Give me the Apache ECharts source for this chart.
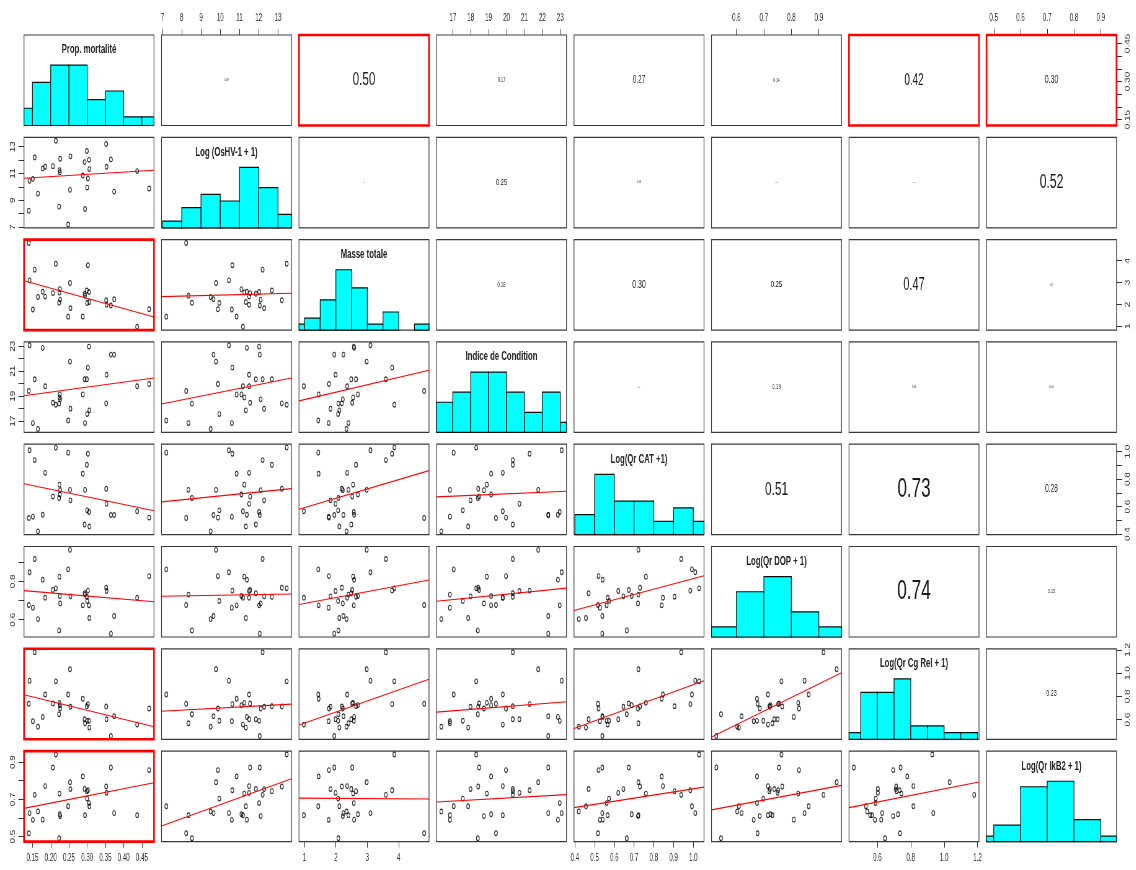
<!DOCTYPE html>
<html>
<head>
<meta charset="utf-8">
<script src="https://cdn.jsdelivr.net/npm/echarts@6/dist/echarts.min.js"></script>
<style>
  html, body { margin: 0; padding: 0; background: #fff; overflow: hidden; width: 1136px; height: 870px; }
  #chart { width: 1833px; height: 870px; transform: scaleX(0.62); transform-origin: 0 0; }
</style>
</head>
<body>
<div id="chart"></div>
<script>
// Horizontal squeeze applied to the drawing (narrow R-style lettering and oval points)
const SX = 0.62;
const FONT = "'Liberation Sans', Arial, sans-serif";

// ---- variables (one value per oyster batch, 30 batches) ----
const varLabels = [
  'Prop. mortalité', 'Log (OsHV-1 + 1)', 'Masse totale', 'Indice de Condition',
  'Log(Qr CAT +1)', 'Log(Qr DOP + 1)', 'Log(Qr Cg Rel + 1)', 'Log(Qr IkB2 + 1)'
];

const mortalite = [0.140, 0.142, 0.151, 0.156, 0.165, 0.178, 0.185, 0.206, 0.214, 0.223,
                   0.224, 0.225, 0.226, 0.248, 0.253, 0.254, 0.288, 0.293, 0.294, 0.299,
                   0.300, 0.302, 0.305, 0.306, 0.352, 0.353, 0.365, 0.374, 0.437, 0.470];
const oshv      = [8.23, 10.45, 10.6, 12.2, 9.5, 11.38, 11.5, 11.55, 13.45, 8.53,
                   11.25, 11.1, 12.1, 7.2, 9.78, 12.28, 10.85, 11.85, 8.35, 12.68,
                   9.95, 10.63, 12.02, 11.33, 13.2, 11.5, 12.05, 9.65, 11.18, 9.88];
const masse     = [4.81, 3.10, 1.77, 3.59, 2.34, 2.58, 2.36, 2.52, 3.86, 2.08,
                   2.55, 2.70, 2.22, 1.44, 2.98, 1.83, 1.45, 2.49, 2.40, 2.64,
                   2.07, 3.79, 2.57, 2.11, 2.19, 1.99, 1.95, 2.24, 0.98, 1.78];
const indice    = [19.41, 23.08, 16.84, 20.35, 16.36, 22.87, 19.79, 18.47, 18.31, 18.4,
                   18.9, 19.14, 18.74, 17.05, 21.77, 17.99, 19.14, 20.35, 16.84, 20.35,
                   17.56, 21.29, 22.97, 17.86, 18.42, 20.72, 22.33, 22.33, 19.79, 19.97];
const qrCat     = [0.517, 1.01, 0.527, 0.939, 0.42, 0.541, 0.846, 0.673, 1.03, 0.663,
                   0.76, 0.688, 0.72, 0.993, 0.722, 0.646, 0.84, 0.47, 0.722, 0.905,
                   0.573, 0.985, 0.561, 0.456, 0.73, 0.62, 0.539, 0.539, 0.566, 0.52];
const qrDop     = [0.677, 0.848, 0.663, 0.917, 0.603, 0.809, 0.715, 0.755, 0.764, 0.544,
                   0.825, 0.724, 0.685, 0.863, 0.965, 0.722, 0.675, 0.738, 0.731, 0.72,
                   0.698, 0.752, 0.675, 0.609, 0.767, 0.75, 0.527, 0.619, 0.715, 0.828];
const qrCgRel   = [0.736, 0.935, 0.586, 1.18, 0.539, 0.623, 0.816, 0.739, 0.929, 0.646,
                   0.744, 0.724, 0.695, 0.816, 1.033, 0.71, 0.779, 0.603, 0.568, 0.715,
                   0.59, 0.733, 0.589, 0.531, 0.713, 0.603, 0.459, 0.629, 0.557, 0.695];
const qrIkb2    = [0.518, 0.626, 0.59, 0.724, 0.635, 0.591, 0.771, 0.871, 0.941, 0.491,
                   0.731, 0.62, 0.61, 0.663, 0.792, 0.755, 0.823, 0.756, 0.615, 0.744,
                   0.704, 0.749, 0.68, 0.663, 0.769, 0.735, 0.871, 0.626, 0.615, 0.857];

// ---- axis ticks and labels ----
const tickValues = [
  [0.15, 0.20, 0.25, 0.30, 0.35, 0.40, 0.45],
  [7, 8, 9, 10, 11, 12, 13],
  [1, 2, 3, 4],
  [17, 18, 19, 20, 21, 22, 23],
  [0.4, 0.5, 0.6, 0.7, 0.8, 0.9, 1.0],
  [0.6, 0.7, 0.8, 0.9],
  [0.6, 0.8, 1.0, 1.2],
  [0.5, 0.6, 0.7, 0.8, 0.9]
];
// labels kept on the vertical (rotated) axes
const sideLabelValues = [
  [0.15, 0.30, 0.45],
  [7, 9, 11, 13],
  [1, 2, 3, 4],
  [17, 19, 21, 23],
  [0.4, 0.6, 0.8, 1.0],
  [0.6, 0.8],
  [0.6, 0.8, 1.0, 1.2],
  [0.5, 0.7, 0.9]
];
const labelDigits = [2, 0, 0, 0, 1, 1, 1, 1];
const histStep = [0.05, 1, 0.5, 1, 0.1, 0.1, 0.1, 0.1];

// |r| printed in the upper panels, row by row (text size follows |r|)
const corRows = [
  [0.09, 0.50, 0.17, 0.27, 0.14, 0.42, 0.30],
  [0.04, 0.25, 0.09, 0.05, 0.06, 0.52],
  [0.18, 0.30, 0.25, 0.47, 0.07],
  [0.05, 0.19, 0.09, 0.10],
  [0.51, 0.73, 0.28],
  [0.74, 0.15],
  [0.23]
];
// panels framed in red (significant links with mortality)
const redPanels = [[0, 2], [0, 6], [0, 7], [2, 0], [6, 0], [7, 0]];

const columns = [mortalite, oshv, masse, indice, qrCat, qrDop, qrCgRel, qrIkb2];
const N = columns.length;

// ---- panel layout (final pixels) ----
const COL_LEFT = 24, COL_STEP = 137.5, PANEL_W = 130;
const ROW_TOP = 35, ROW_STEP = 102.3, PANEL_H = 90.5;

function padRange(arr) {
  const mn = Math.min(...arr), mx = Math.max(...arr), d = mx - mn;
  return [mn - 0.04 * d, mx + 0.04 * d];
}
const ranges = columns.map(padRange);

function histogram(arr, step) {
  const mn = Math.min(...arr), mx = Math.max(...arr);
  const b0 = Math.floor(mn / step + 1e-9) * step;
  const nb = Math.ceil((mx - b0) / step - 1e-9);
  const counts = new Array(nb).fill(0);
  arr.forEach(v => {
    let k = Math.ceil((v - b0) / step - 1e-7) - 1;
    k = Math.max(0, Math.min(nb - 1, k));
    counts[k]++;
  });
  const top = Math.max(...counts);
  return counts.map((c, k) => [b0 + k * step, b0 + (k + 1) * step, c / top]);
}

// least-squares line, drawn across the whole panel
function fitLine(xs, ys, lo, hi) {
  const n = xs.length;
  const mx = xs.reduce((a, b) => a + b, 0) / n;
  const my = ys.reduce((a, b) => a + b, 0) / n;
  let sxy = 0, sxx = 0;
  for (let k = 0; k < n; k++) { sxy += (xs[k] - mx) * (ys[k] - my); sxx += (xs[k] - mx) * (xs[k] - mx); }
  const b = sxy / sxx, a = my - b * mx;
  return [[lo, a + b * lo], [hi, a + b * hi]];
}

function isRed(i, j) { return redPanels.some(p => p[0] === i && p[1] === j); }

function axisCfg(g, range, side, varIdx, vertical) {
  const cfg = {
    type: 'value', gridIndex: g, min: range[0], max: range[1],
    scale: true, show: side !== null,
    splitLine: { show: false }, axisLine: { show: false }
  };
  if (side !== null) {
    cfg.position = side;
    cfg.axisTick = {
      show: true, inside: false, length: vertical ? 9 : 6,
      customValues: tickValues[varIdx],
      lineStyle: { color: '#333', width: 1 }
    };
    cfg.axisLabel = {
      show: true,
      customValues: vertical ? sideLabelValues[varIdx] : tickValues[varIdx],
      formatter: v => Number(v).toFixed(labelDigits[varIdx]),
      fontSize: 10, color: '#2a2a2a', fontFamily: FONT,
      margin: vertical ? (side === 'left' ? 12 : 13) : 12,
      rotate: vertical ? 90 : 0
    };
  } else {
    cfg.axisTick = { show: false };
    cfg.axisLabel = { show: false };
  }
  return cfg;
}

const grids = [], xAxes = [], yAxes = [], series = [], graphics = [];

for (let i = 0; i < N; i++) {
  for (let j = 0; j < N; j++) {
    const g = i * N + j;
    const red = isRed(i, j);
    grids.push({
      left: (COL_LEFT + COL_STEP * j) / SX,
      top: ROW_TOP + ROW_STEP * i,
      width: PANEL_W / SX,
      height: PANEL_H,
      show: true,
      backgroundColor: 'rgba(0,0,0,0)',
      borderColor: red ? '#ff0000' : '#3a3a3a',
      borderWidth: red ? 2.6 : 1.2,
      z: red ? 5 : 1
    });

    // outer axes alternate like an R pairs() plot
    let xSide = null, ySide = null;
    if (i === 0 && j % 2 === 1) xSide = 'top';
    if (i === N - 1 && j % 2 === 0) xSide = 'bottom';
    if (j === 0 && i % 2 === 1) ySide = 'left';
    if (j === N - 1 && i % 2 === 0) ySide = 'right';

    xAxes.push(axisCfg(g, ranges[j], xSide, j, false));
    if (i === j) {
      yAxes.push(axisCfg(g, [0, 1.5], null, i, true));
    } else {
      yAxes.push(axisCfg(g, ranges[i], ySide, i, true));
    }

    const cx = (COL_LEFT + COL_STEP * j + PANEL_W / 2) / SX;
    const cy = ROW_TOP + ROW_STEP * i + PANEL_H / 2;

    if (i === j) {
      const lo = ranges[j][0], hi = ranges[j][1];
      series.push({
        type: 'custom', xAxisIndex: g, yAxisIndex: g, silent: true, z: 2,
        data: histogram(columns[j], histStep[j]),
        encode: { x: [0, 1], y: 2 },
        renderItem: (params, api) => {
          const x0 = Math.max(api.value(0), lo), x1 = Math.min(api.value(1), hi);
          const h = api.value(2);
          if (x1 <= x0 || h <= 0) return null;
          const a = api.coord([x0, 0]), b = api.coord([x1, h]);
          return {
            type: 'rect',
            shape: { x: a[0], y: b[1], width: b[0] - a[0], height: a[1] - b[1] },
            style: { fill: '#00ffff', stroke: '#111', lineWidth: 1.2 }
          };
        }
      });
      graphics.push({
        type: 'text', x: cx, y: ROW_TOP + ROW_STEP * i + 15, z: 100,
        style: {
          text: varLabels[i], fontSize: 12.5, fontWeight: 'bold', fontFamily: FONT, fill: '#222',
          align: 'center', verticalAlign: 'middle', textAlign: 'center', textVerticalAlign: 'middle'
        }
      });
    } else if (i > j) {
      const xs = columns[j], ys = columns[i];
      series.push({
        type: 'scatter', xAxisIndex: g, yAxisIndex: g, silent: true, z: 3,
        symbol: 'circle', symbolSize: 4.7,
        itemStyle: { color: 'rgba(0,0,0,0)', borderColor: '#000', borderWidth: 1.15 },
        data: xs.map((v, k) => [v, ys[k]])
      });
      series.push({
        type: 'line', xAxisIndex: g, yAxisIndex: g, silent: true, z: 4, clip: true,
        showSymbol: false, symbol: 'none', smooth: false,
        lineStyle: { color: '#ff0000', width: 1.1 },
        data: fitLine(xs, ys, ranges[j][0], ranges[j][1])
      });
    } else {
      const r = corRows[i][j - i - 1];
      graphics.push({
        type: 'text', x: cx, y: cy, z: 100,
        style: {
          text: r.toFixed(2), fontSize: Math.max(1, 37.7 * r), fontFamily: FONT, fill: '#1a1a1a',
          align: 'center', verticalAlign: 'middle', textAlign: 'center', textVerticalAlign: 'middle'
        }
      });
    }
  }
}

const chart = echarts.init(document.getElementById('chart'), null, { renderer: 'canvas' });
chart.setOption({
  backgroundColor: '#ffffff',
  animation: false,
  grid: grids,
  xAxis: xAxes,
  yAxis: yAxes,
  series: series,
  graphic: graphics
});
</script>
</body>
</html>
